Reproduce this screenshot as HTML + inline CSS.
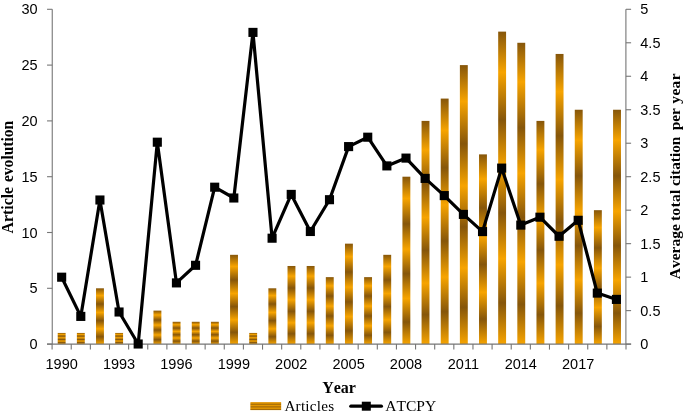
<!DOCTYPE html><html><head><meta charset="utf-8"><title>Chart</title>
<style>html,body{margin:0;padding:0;background:#fff}svg{display:block}.n{font-family:"Liberation Sans",sans-serif;font-size:14.5px;fill:#000}.t{font-family:"Liberation Serif",serif;font-size:16px;fill:#000;font-kerning:none}.b{font-weight:bold}</style></head><body>
<svg width="685" height="416" viewBox="0 0 685 416">
<defs><linearGradient id="g" x1="0" y1="0" x2="0" y2="1">
<stop offset="0" stop-color="#86560A"/>
<stop offset="0.13" stop-color="#F7A400"/>
<stop offset="0.282" stop-color="#86560A"/>
<stop offset="0.433" stop-color="#F7A400"/>
<stop offset="0.58" stop-color="#86560A"/>
<stop offset="0.727" stop-color="#F7A400"/>
<stop offset="0.868" stop-color="#86560A"/>
<stop offset="1.0" stop-color="#F7A400"/>
</linearGradient></defs>
<rect width="685" height="416" fill="#fff"/>
<rect x="57.72" y="332.94" width="7.9" height="11.16" fill="url(#g)"/>
<rect x="76.88" y="332.94" width="7.9" height="11.16" fill="url(#g)"/>
<rect x="96.02" y="288.30" width="7.9" height="55.80" fill="url(#g)"/>
<rect x="115.17" y="332.94" width="7.9" height="11.16" fill="url(#g)"/>
<rect x="153.47" y="310.62" width="7.9" height="33.48" fill="url(#g)"/>
<rect x="172.62" y="321.78" width="7.9" height="22.32" fill="url(#g)"/>
<rect x="191.78" y="321.78" width="7.9" height="22.32" fill="url(#g)"/>
<rect x="210.92" y="321.78" width="7.9" height="22.32" fill="url(#g)"/>
<rect x="230.07" y="254.82" width="7.9" height="89.28" fill="url(#g)"/>
<rect x="249.22" y="332.94" width="7.9" height="11.16" fill="url(#g)"/>
<rect x="268.38" y="288.30" width="7.9" height="55.80" fill="url(#g)"/>
<rect x="287.52" y="265.98" width="7.9" height="78.12" fill="url(#g)"/>
<rect x="306.68" y="265.98" width="7.9" height="78.12" fill="url(#g)"/>
<rect x="325.82" y="277.14" width="7.9" height="66.96" fill="url(#g)"/>
<rect x="344.98" y="243.66" width="7.9" height="100.44" fill="url(#g)"/>
<rect x="364.12" y="277.14" width="7.9" height="66.96" fill="url(#g)"/>
<rect x="383.28" y="254.82" width="7.9" height="89.28" fill="url(#g)"/>
<rect x="402.43" y="176.70" width="7.9" height="167.40" fill="url(#g)"/>
<rect x="421.57" y="120.90" width="7.9" height="223.20" fill="url(#g)"/>
<rect x="440.73" y="98.58" width="7.9" height="245.52" fill="url(#g)"/>
<rect x="459.88" y="65.10" width="7.9" height="279.00" fill="url(#g)"/>
<rect x="479.02" y="154.38" width="7.9" height="189.72" fill="url(#g)"/>
<rect x="498.18" y="31.62" width="7.9" height="312.48" fill="url(#g)"/>
<rect x="517.32" y="42.78" width="7.9" height="301.32" fill="url(#g)"/>
<rect x="536.47" y="120.90" width="7.9" height="223.20" fill="url(#g)"/>
<rect x="555.62" y="53.94" width="7.9" height="290.16" fill="url(#g)"/>
<rect x="574.77" y="109.74" width="7.9" height="234.36" fill="url(#g)"/>
<rect x="593.92" y="210.18" width="7.9" height="133.92" fill="url(#g)"/>
<rect x="613.07" y="109.74" width="7.9" height="234.36" fill="url(#g)"/>
<g stroke="#767676" stroke-width="1.1" fill="none">
<line x1="52.25" y1="9.3" x2="52.25" y2="344.1"/>
<line x1="625.9" y1="9.3" x2="625.9" y2="344.1"/>
<line x1="47.05" y1="344.1" x2="631.1" y2="344.1"/>
<line x1="47.05" y1="344.10" x2="52.25" y2="344.10"/>
<line x1="47.05" y1="288.30" x2="52.25" y2="288.30"/>
<line x1="47.05" y1="232.50" x2="52.25" y2="232.50"/>
<line x1="47.05" y1="176.70" x2="52.25" y2="176.70"/>
<line x1="47.05" y1="120.90" x2="52.25" y2="120.90"/>
<line x1="47.05" y1="65.10" x2="52.25" y2="65.10"/>
<line x1="47.05" y1="9.30" x2="52.25" y2="9.30"/>
<line x1="625.9" y1="344.10" x2="631.1" y2="344.10"/>
<line x1="625.9" y1="310.62" x2="631.1" y2="310.62"/>
<line x1="625.9" y1="277.14" x2="631.1" y2="277.14"/>
<line x1="625.9" y1="243.66" x2="631.1" y2="243.66"/>
<line x1="625.9" y1="210.18" x2="631.1" y2="210.18"/>
<line x1="625.9" y1="176.70" x2="631.1" y2="176.70"/>
<line x1="625.9" y1="143.22" x2="631.1" y2="143.22"/>
<line x1="625.9" y1="109.74" x2="631.1" y2="109.74"/>
<line x1="625.9" y1="76.26" x2="631.1" y2="76.26"/>
<line x1="625.9" y1="42.78" x2="631.1" y2="42.78"/>
<line x1="625.9" y1="9.30" x2="631.1" y2="9.30"/>
<line x1="52.10" y1="344.1" x2="52.10" y2="349.6"/>
<line x1="71.23" y1="344.1" x2="71.23" y2="349.6"/>
<line x1="90.36" y1="344.1" x2="90.36" y2="349.6"/>
<line x1="109.49" y1="344.1" x2="109.49" y2="349.6"/>
<line x1="128.62" y1="344.1" x2="128.62" y2="349.6"/>
<line x1="147.75" y1="344.1" x2="147.75" y2="349.6"/>
<line x1="166.88" y1="344.1" x2="166.88" y2="349.6"/>
<line x1="186.01" y1="344.1" x2="186.01" y2="349.6"/>
<line x1="205.14" y1="344.1" x2="205.14" y2="349.6"/>
<line x1="224.27" y1="344.1" x2="224.27" y2="349.6"/>
<line x1="243.40" y1="344.1" x2="243.40" y2="349.6"/>
<line x1="262.53" y1="344.1" x2="262.53" y2="349.6"/>
<line x1="281.66" y1="344.1" x2="281.66" y2="349.6"/>
<line x1="300.79" y1="344.1" x2="300.79" y2="349.6"/>
<line x1="319.92" y1="344.1" x2="319.92" y2="349.6"/>
<line x1="339.05" y1="344.1" x2="339.05" y2="349.6"/>
<line x1="358.18" y1="344.1" x2="358.18" y2="349.6"/>
<line x1="377.31" y1="344.1" x2="377.31" y2="349.6"/>
<line x1="396.44" y1="344.1" x2="396.44" y2="349.6"/>
<line x1="415.57" y1="344.1" x2="415.57" y2="349.6"/>
<line x1="434.70" y1="344.1" x2="434.70" y2="349.6"/>
<line x1="453.83" y1="344.1" x2="453.83" y2="349.6"/>
<line x1="472.96" y1="344.1" x2="472.96" y2="349.6"/>
<line x1="492.09" y1="344.1" x2="492.09" y2="349.6"/>
<line x1="511.22" y1="344.1" x2="511.22" y2="349.6"/>
<line x1="530.35" y1="344.1" x2="530.35" y2="349.6"/>
<line x1="549.48" y1="344.1" x2="549.48" y2="349.6"/>
<line x1="568.61" y1="344.1" x2="568.61" y2="349.6"/>
<line x1="587.74" y1="344.1" x2="587.74" y2="349.6"/>
<line x1="606.87" y1="344.1" x2="606.87" y2="349.6"/>
<line x1="626.00" y1="344.1" x2="626.00" y2="349.6"/>
</g>
<text class="n" x="37.6" y="349.10" text-anchor="end">0</text>
<text class="n" x="37.6" y="293.30" text-anchor="end">5</text>
<text class="n" x="37.6" y="237.50" text-anchor="end">10</text>
<text class="n" x="37.6" y="181.70" text-anchor="end">15</text>
<text class="n" x="37.6" y="125.90" text-anchor="end">20</text>
<text class="n" x="37.6" y="70.10" text-anchor="end">25</text>
<text class="n" x="37.6" y="14.30" text-anchor="end">30</text>
<text class="n" x="640.3" y="349.10">0</text>
<text class="n" x="640.3" y="315.62">0.5</text>
<text class="n" x="640.3" y="282.14">1</text>
<text class="n" x="640.3" y="248.66">1.5</text>
<text class="n" x="640.3" y="215.18">2</text>
<text class="n" x="640.3" y="181.70">2.5</text>
<text class="n" x="640.3" y="148.22">3</text>
<text class="n" x="640.3" y="114.74">3.5</text>
<text class="n" x="640.3" y="81.26">4</text>
<text class="n" x="640.3" y="47.78">4.5</text>
<text class="n" x="640.3" y="14.30">5</text>
<text class="n" x="61.66" y="369.3" text-anchor="middle">1990</text>
<text class="n" x="119.06" y="369.3" text-anchor="middle">1993</text>
<text class="n" x="176.44" y="369.3" text-anchor="middle">1996</text>
<text class="n" x="233.83" y="369.3" text-anchor="middle">1999</text>
<text class="n" x="291.23" y="369.3" text-anchor="middle">2002</text>
<text class="n" x="348.62" y="369.3" text-anchor="middle">2005</text>
<text class="n" x="406.00" y="369.3" text-anchor="middle">2008</text>
<text class="n" x="463.39" y="369.3" text-anchor="middle">2011</text>
<text class="n" x="520.78" y="369.3" text-anchor="middle">2014</text>
<text class="n" x="578.17" y="369.3" text-anchor="middle">2017</text>
<polyline points="61.66,277.20 80.80,316.40 99.92,200.00 119.06,312.00 138.19,344.00 157.31,142.20 176.44,282.90 195.57,265.30 214.70,187.20 233.83,198.00 252.96,32.40 272.09,238.20 291.23,194.40 310.36,231.50 329.49,199.70 348.62,146.60 367.75,137.20 386.88,165.90 406.00,158.10 425.13,178.40 444.26,195.60 463.39,214.40 482.52,231.60 501.65,168.10 520.78,225.10 539.91,217.20 559.04,236.25 578.17,220.30 597.30,293.10 616.43,299.40" fill="none" stroke="#000" stroke-width="3.2" stroke-linejoin="round" stroke-linecap="round"/>
<rect x="57.12" y="272.65" width="9.1" height="9.1" fill="#000"/>
<rect x="76.25" y="311.85" width="9.1" height="9.1" fill="#000"/>
<rect x="95.38" y="195.45" width="9.1" height="9.1" fill="#000"/>
<rect x="114.51" y="307.45" width="9.1" height="9.1" fill="#000"/>
<rect x="133.63" y="339.45" width="9.1" height="9.1" fill="#000"/>
<rect x="152.76" y="137.65" width="9.1" height="9.1" fill="#000"/>
<rect x="171.89" y="278.35" width="9.1" height="9.1" fill="#000"/>
<rect x="191.02" y="260.75" width="9.1" height="9.1" fill="#000"/>
<rect x="210.15" y="182.65" width="9.1" height="9.1" fill="#000"/>
<rect x="229.28" y="193.45" width="9.1" height="9.1" fill="#000"/>
<rect x="248.41" y="27.85" width="9.1" height="9.1" fill="#000"/>
<rect x="267.54" y="233.65" width="9.1" height="9.1" fill="#000"/>
<rect x="286.68" y="189.85" width="9.1" height="9.1" fill="#000"/>
<rect x="305.81" y="226.95" width="9.1" height="9.1" fill="#000"/>
<rect x="324.94" y="195.15" width="9.1" height="9.1" fill="#000"/>
<rect x="344.06" y="142.05" width="9.1" height="9.1" fill="#000"/>
<rect x="363.19" y="132.65" width="9.1" height="9.1" fill="#000"/>
<rect x="382.32" y="161.35" width="9.1" height="9.1" fill="#000"/>
<rect x="401.45" y="153.55" width="9.1" height="9.1" fill="#000"/>
<rect x="420.58" y="173.85" width="9.1" height="9.1" fill="#000"/>
<rect x="439.71" y="191.05" width="9.1" height="9.1" fill="#000"/>
<rect x="458.84" y="209.85" width="9.1" height="9.1" fill="#000"/>
<rect x="477.97" y="227.05" width="9.1" height="9.1" fill="#000"/>
<rect x="497.10" y="163.55" width="9.1" height="9.1" fill="#000"/>
<rect x="516.24" y="220.55" width="9.1" height="9.1" fill="#000"/>
<rect x="535.37" y="212.65" width="9.1" height="9.1" fill="#000"/>
<rect x="554.50" y="231.70" width="9.1" height="9.1" fill="#000"/>
<rect x="573.62" y="215.75" width="9.1" height="9.1" fill="#000"/>
<rect x="592.75" y="288.55" width="9.1" height="9.1" fill="#000"/>
<rect x="611.88" y="294.85" width="9.1" height="9.1" fill="#000"/>
<text class="t b" transform="translate(13.2,233.4) rotate(-90) scale(1,1.06)"><tspan x="0" style="font-size:15.8px">Article</tspan> <tspan x="51.35" style="font-size:15.55px">evolution</tspan></text>
<text class="t b" transform="translate(680.2,279.3) rotate(-90) scale(1,0.935)"><tspan x="0.00" style="font-size:15.57px">Average</tspan> <tspan x="58.20" style="font-size:15.6px;letter-spacing:0.28px">total</tspan> <tspan x="93.40" style="font-size:15.3px">citation</tspan> <tspan x="149.00" style="font-size:15.3px">per</tspan> <tspan x="175.60" style="font-size:15.4px;letter-spacing:0.4px">year</tspan></text>
<text class="t b" x="322.2" y="393.4">Year</text>
<rect x="250.5" y="402.2" width="30.6" height="7.9" fill="#DA9000"/>
<rect x="250.5" y="403.65" width="30.6" height="1.1" fill="#A0690A"/>
<rect x="250.5" y="406.35" width="30.6" height="1.1" fill="#A0690A"/>
<rect x="250.5" y="408.85" width="30.6" height="1.1" fill="#A0690A"/>
<rect x="250.5" y="402.65" width="30.6" height="0.7" fill="#EA9C00"/>
<rect x="250.5" y="405.25" width="30.6" height="0.7" fill="#EA9C00"/>
<rect x="250.5" y="407.85" width="30.6" height="0.7" fill="#EA9C00"/>
<text class="t" style="font-size:15.2px;letter-spacing:0.24px" x="284.4" y="410.9">Articles</text>
<line x1="350.8" y1="406.2" x2="381.4" y2="406.2" stroke="#000" stroke-width="3.2" stroke-linecap="round"/>
<rect x="361.8" y="401.7" width="9.0" height="9.0" fill="#000"/>
<text class="t" style="font-size:15.5px;letter-spacing:0.05px" x="385.2" y="410.9">ATCPY</text>
</svg></body></html>
